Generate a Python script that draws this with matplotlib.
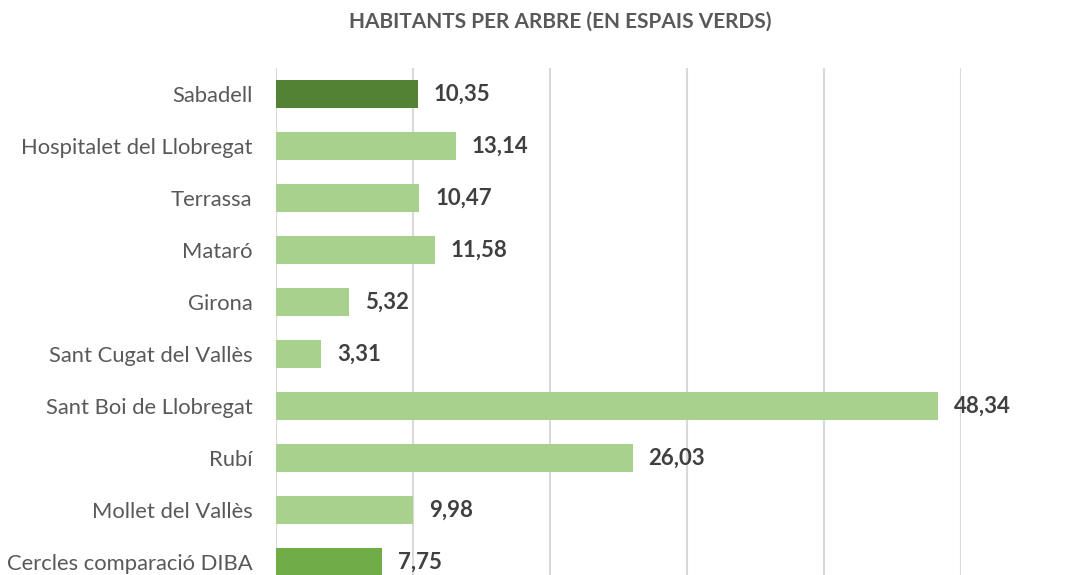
import matplotlib.pyplot as plt

# Habitants per arbre en espais verds
cities = ["Sabadell", "Hospitalet del Llobregat", "Terrassa", "Mataró", "Girona",
          "Sant Cugat del Vallès", "Sant Boi de Llobregat", "Rubí",
          "Mollet del Vallès", "Cercles comparació DIBA"]
values = [10.35, 13.14, 10.47, 11.58, 5.32, 3.31, 48.34, 26.03, 9.98, 7.75]

colors = ["#548235"] + ["#A9D18E"] * 8 + ["#70AD47"]

plt.rcParams['font.family'] = ['Lato', 'DejaVu Sans']

W, H = 1087, 575
fig = plt.figure(figsize=(W / 100, H / 100), dpi=100)
# plot area in pixels: x 276..961, y 68..588 (last row runs off the bottom)
ax = fig.add_axes([276 / W, 1 - 588 / H, (961 - 276) / W, (588 - 68) / H])

pos = list(range(len(cities)))
ax.barh(pos, values, height=0.54, color=colors, zorder=3)
ax.set_ylim(len(cities) - 0.5, -0.5)
ax.set_xlim(0, 50)

ax.set_xticks([0, 10, 20, 30, 40, 50])
ax.grid(axis='x', color='#D9D9D9', linewidth=1.5, zorder=0)
ax.tick_params(axis='x', length=0, labelbottom=False)
ax.tick_params(axis='y', length=0, pad=17)
ax.set_yticks(pos)
ax.set_yticklabels(cities, fontsize=15.8, color='#595959')
for s in ax.spines.values():
    s.set_visible(False)

for p, v in zip(pos, values):
    ax.annotate(f"{v:.2f}".replace(".", ","), (v, p), xytext=(11.5, 0),
                textcoords='offset points', ha='left', va='center',
                fontsize=16, fontweight='bold', color='#404040',
                annotation_clip=False)

fig.text(560 / W, 1 - 22 / H, "HABITANTS PER ARBRE (EN ESPAIS VERDS)",
         ha='center', va='center', fontsize=15, fontweight='bold', color='#595959')

fig.savefig("out.png", dpi=100)
